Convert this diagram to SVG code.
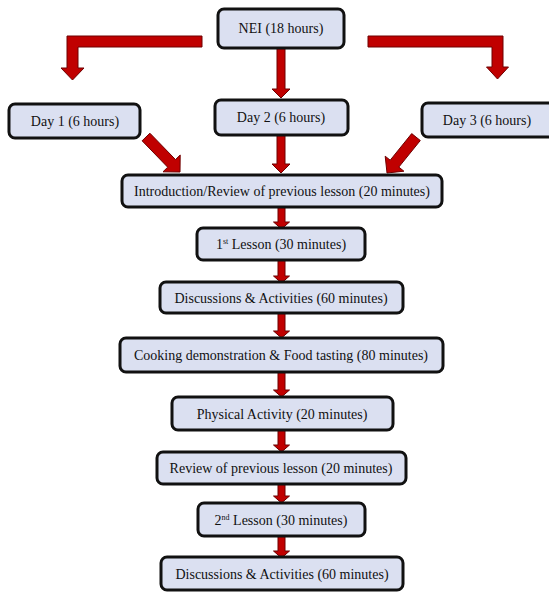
<svg xmlns="http://www.w3.org/2000/svg" width="549" height="592" viewBox="0 0 549 592">
<style>
.box{fill:#dbe0f1;stroke:#111;stroke-width:3}
.lbl{font-family:"Liberation Serif","Times New Roman",serif;font-size:14px;fill:#111;text-anchor:middle}
.sup{font-size:8px}
.arr{fill:#c00000;stroke:#6e0000;stroke-width:1;stroke-linejoin:miter}
</style>
<rect width="549" height="592" fill="#ffffff"/>
<g id="connectors">
<polygon class="arr" points="202,36 67,36 67,68 61,68 72.5,80 84,68 78,68 78,47 202,47"/>
<polygon class="arr" points="368,36 503,36 503,67 508.5,67 497.5,79 486.5,67 492,67 492,47 368,47"/>
<polygon class="arr" points="277,47 285,47 285,89 290,89 281,98 272,89 277,89"/>
<polygon class="arr" points="149.9,133.2 175.5,159.6 180.2,155 180,172 163,171.8 167.7,167.2 142.1,140.8"/>
<polygon class="arr" points="277,134 285,134 285,164 290,164 281,173 272,164 277,164"/>
<polygon class="arr" points="411.7,133.6 390.2,160.2 385.2,156.2 387,173 403.9,171.2 398.8,167.1 420.3,140.5"/>
<polygon class="arr" points="278,206 285,206 285,222 289.5,222 281.5,229 273.5,222 278,222"/>
<polygon class="arr" points="278,259 285,259 285,276 289.5,276 281.5,283 273.5,276 278,276"/>
<polygon class="arr" points="278,312 285,312 285,331 289.5,331 281.5,338 273.5,331 278,331"/>
<polygon class="arr" points="278,371 285,371 285,390 289.5,390 281.5,397 273.5,390 278,390"/>
<polygon class="arr" points="278,429 285,429 285,445 289.5,445 281.5,452 273.5,445 278,445"/>
<polygon class="arr" points="278,483 285,483 285,496 289.5,496 281.5,503 273.5,496 278,496"/>
<polygon class="arr" points="278,535 285,535 285,551 289.5,551 281.5,558 273.5,551 278,551"/>
</g>
<g id="nei"><rect class="box" x="218" y="9" width="126" height="39" rx="6"/><text class="lbl" x="281" y="33">NEI (18 hours)</text></g>
<g id="day1"><rect class="box" x="9" y="104" width="131" height="34" rx="6"/><text class="lbl" x="75" y="126">Day 1 (6 hours)</text></g>
<g id="day2"><rect class="box" x="215" y="100" width="133" height="35" rx="6"/><text class="lbl" x="281" y="122">Day 2 (6 hours)</text></g>
<g id="day3"><rect class="box" x="422" y="103" width="132" height="34" rx="6"/><text class="lbl" x="487" y="125">Day 3 (6 hours)</text></g>
<g id="intro"><rect class="box" x="122" y="175" width="320" height="32" rx="6"/><text class="lbl" x="282" y="196">Introduction/Review of previous lesson (20 minutes)</text></g>
<g id="lesson1"><rect class="box" x="197" y="228" width="168" height="32" rx="6"/><text class="lbl" x="281" y="249">1<tspan class="sup" dy="-5">st</tspan><tspan dy="5"> Lesson (30 minutes)</tspan></text></g>
<g id="disc1"><rect class="box" x="160" y="282" width="243" height="31" rx="6"/><text class="lbl" x="281" y="303">Discussions &amp; Activities (60 minutes)</text></g>
<g id="cooking"><rect class="box" x="120" y="338" width="323" height="34" rx="6"/><text class="lbl" x="281" y="360">Cooking demonstration &amp; Food tasting (80 minutes)</text></g>
<g id="physical"><rect class="box" x="172" y="397" width="221" height="33" rx="6"/><text class="lbl" x="282" y="419">Physical Activity (20 minutes)</text></g>
<g id="review"><rect class="box" x="157" y="452" width="249" height="32" rx="6"/><text class="lbl" x="281" y="473">Review of previous lesson (20 minutes)</text></g>
<g id="lesson2"><rect class="box" x="198" y="503" width="167" height="33" rx="6"/><text class="lbl" x="281" y="525">2<tspan class="sup" dy="-5">nd</tspan><tspan dy="5"> Lesson (30 minutes)</tspan></text></g>
<g id="disc2"><rect class="box" x="161" y="557" width="242" height="33" rx="6"/><text class="lbl" x="282" y="579">Discussions &amp; Activities (60 minutes)</text></g>
</svg>
